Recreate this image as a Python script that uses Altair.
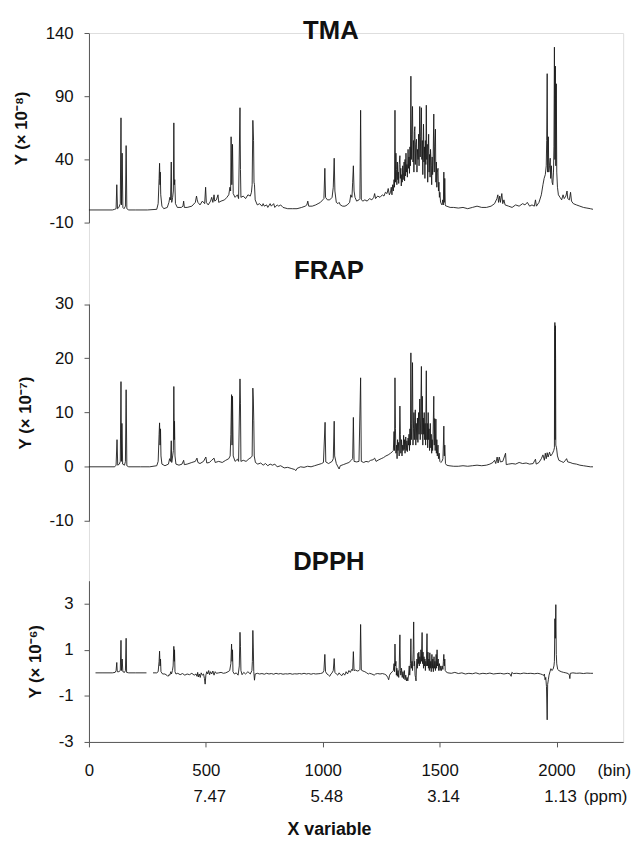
import altair as alt
import pandas as pd

FONT = "Liberation Sans"

panel_names = ["TMA", "FRAP", "DPPH"]
y_titles = ["Y (× 10⁻⁸)", "Y (× 10⁻⁷)", "Y (× 10⁻⁶)"]
tma_domain = [-10, 140]
tma_ticks = [-10, 40, 90, 140]
frap_domain = [-10, 30]
frap_ticks = [-10, 0, 10, 20, 30]
dpph_domain = [-3, 4]
dpph_ticks = [-3, -1, 1, 3]
bin_domain = [0, 2285]
bin_ticks = [0, 500, 1000, 1500, 2000]
ppm_bins = [500, 1000, 1500, 2000]
ppm_labels = ["7.47", "5.48", "3.14", "1.13"]

# ---- TMA spectrum (bin, value x 1e-8) ----
tma_left = [
    (0, 0), (100, 0), (110, 0.5), (116, 1), (119, 20), (122, 1), (128, 2), (134, 5), (137, 73), (139, 4),
    (142, 45), (145, 2), (150, 1), (156, 3), (159, 51), (162, 1), (170, 0), (200, 0), (250, 0), (290, 0.5),
    (296, 5), (300, 25), (302, 37), (304, 20), (305, 30), (307, 12), (312, 3), (320, 1), (335, 2), (342, 6),
    (346, 10), (349, 8), (352, 38), (354, 6), (358, 10), (361, 15), (363, 69), (365, 20), (367, 24), (370, 5),
    (378, 2), (395, 2), (402, 3), (405, 7), (408, 2), (420, 2), (440, 3), (455, 6), (460, 11), (463, 8),
    (466, 6), (475, 4), (485, 7), (495, 5), (499, 18), (502, 6), (510, 4), (520, 7), (525, 10), (530, 6),
    (535, 12), (538, 7), (545, 8), (552, 12), (555, 6), (565, 7), (580, 8), (590, 10), (598, 12), (603, 18),
    (606, 15), (608, 58), (611, 20), (614, 52), (617, 13), (625, 10), (635, 12), (640, 9), (646, 81), (648, 32),
    (650, 10), (660, 11), (670, 9), (680, 12), (690, 11), (695, 14), (698, 20), (701, 71), (704, 55), (706, 22),
    (708, 20), (711, 8), (720, 4), (730, 5), (740, 3), (745, 5), (750, 3), (760, 4), (765, 2), (775, 5),
    (780, 3), (790, 5), (795, 2), (805, 4), (812, 3), (820, 4), (830, 2), (850, 1), (870, 1), (890, 1),
    (910, 2), (925, 3), (932, 4), (936, 7), (940, 3), (955, 3), (970, 4), (980, 5), (990, 6), (1000, 8),
    (1005, 9), (1009, 33), (1012, 10), (1020, 8), (1030, 8), (1040, 10), (1045, 18), (1049, 41), (1052, 15), (1058, 6),
    (1065, 5), (1070, 6), (1075, 4), (1085, 3), (1095, 3), (1105, 4), (1115, 6), (1120, 12), (1125, 10), (1128, 22),
    (1131, 35), (1134, 15), (1138, 10), (1145, 7), (1155, 8), (1159, 9), (1162, 79), (1165, 8), (1172, 7), (1180, 8),
    (1190, 7), (1200, 9), (1210, 8), (1218, 10), (1222, 13), (1226, 9), (1235, 11), (1245, 10), (1255, 12), (1262, 11),
    (1268, 14), (1275, 13), (1280, 17), (1285, 12),
]
tma_cluster = [
    (1290, 14), (1293, 18), (1296, 12), (1299, 20), (1302, 15), (1305, 24), (1307, 18), (1309, 79), (1311, 22), (1313, 45),
    (1315, 32), (1317, 20), (1319, 38), (1321, 24), (1323, 30), (1325, 21), (1327, 36), (1330, 43), (1332, 25), (1334, 33),
    (1336, 19), (1338, 28), (1340, 22), (1342, 35), (1344, 24), (1346, 30), (1348, 38), (1350, 23), (1352, 40), (1354, 27),
    (1356, 45), (1358, 30), (1360, 36), (1362, 26), (1365, 48), (1367, 33), (1369, 42), (1371, 29), (1373, 50), (1375, 35),
    (1377, 106), (1379, 40), (1381, 60), (1384, 82), (1386, 38), (1388, 55), (1390, 30), (1392, 62), (1394, 66), (1396, 36),
    (1398, 52), (1401, 56), (1403, 30), (1405, 48), (1408, 40), (1410, 60), (1412, 35), (1415, 82), (1417, 42), (1419, 58),
    (1422, 81), (1424, 40), (1426, 55), (1428, 28), (1431, 68), (1433, 38), (1435, 50), (1437, 25), (1439, 55), (1441, 36),
    (1443, 83), (1445, 40), (1447, 52), (1449, 22), (1451, 46), (1453, 60), (1455, 30), (1457, 44), (1459, 26), (1461, 48),
    (1464, 35), (1466, 20), (1468, 42), (1470, 28), (1472, 38), (1475, 76), (1477, 30), (1479, 50), (1482, 64), (1484, 22),
    (1486, 38), (1488, 18), (1490, 30), (1493, 33), (1495, 15), (1497, 22), (1499, 10), (1501, 14), (1504, 6), (1507, 5),
    (1510, 4), (1513, 8), (1516, 4), (1518, 30), (1520, 6), (1522, 25), (1524, 4), (1527, 3),
]
tma_right = [
    (1530, 3), (1545, 2), (1560, 2), (1580, 1.5), (1600, 2), (1620, 1), (1640, 2), (1660, 3), (1680, 2), (1700, 2),
    (1720, 3), (1735, 5), (1745, 9), (1749, 12), (1752, 6), (1757, 11), (1760, 6), (1766, 13), (1770, 5), (1775, 8),
    (1780, 4), (1795, 3), (1810, 2), (1825, 4), (1840, 3), (1855, 5), (1865, 4), (1875, 6), (1885, 3), (1895, 4),
    (1905, 3), (1910, 8), (1914, 3), (1925, 6), (1935, 12), (1942, 20), (1947, 25), (1952, 28), (1956, 35), (1958, 55),
    (1960, 108), (1962, 30), (1965, 58), (1967, 30), (1970, 35), (1973, 41), (1975, 25), (1978, 35), (1981, 22), (1984, 20),
    (1987, 30), (1989, 50), (1991, 129), (1993, 40), (1995, 114), (1997, 35), (1999, 100), (2001, 30), (2004, 18), (2008, 12),
    (2015, 10), (2022, 8), (2028, 12), (2033, 9), (2040, 11), (2045, 15), (2048, 9), (2055, 8), (2060, 14), (2064, 7),
    (2072, 5), (2085, 4), (2100, 3), (2115, 2), (2130, 1.5), (2145, 1), (2156, 0.5),
]

# ---- FRAP spectrum (bin, value x 1e-7) ----
frap_left = [
    (0, 0), (110, 0), (116, 0.3), (120, 5), (123, 0.3), (130, 0.5), (134, 1), (137, 15.7), (139, 1), (141, 8),
    (144, 0.5), (152, 0.3), (156, 1), (159, 14.2), (162, 0.2), (170, 0), (220, 0), (260, 0), (290, 0.2), (296, 1),
    (300, 6), (302, 8.1), (304, 4), (306, 7), (308, 2), (312, 0.5), (325, 0.2), (340, 0.5), (345, 1.5), (349, 1),
    (352, 4.8), (354, 0.8), (358, 2), (361, 3), (363, 14.8), (365, 5), (366, 8.4), (368, 2), (372, 0.5), (385, 0.3),
    (398, 0.5), (405, 1.2), (408, 0.4), (420, 0.5), (440, 0.8), (455, 1), (462, 1.6), (466, 0.8), (475, 0.6), (490, 1),
    (500, 1.8), (504, 0.7), (515, 0.8), (525, 1.2), (535, 1.6), (540, 0.8), (555, 1), (570, 0.8), (585, 1.2), (598, 1.5),
    (604, 2), (607, 6), (610, 13.3), (612, 4), (614, 13), (617, 2), (625, 1), (635, 1.4), (640, 1), (646, 16.2),
    (648, 11.6), (650, 1), (660, 1.2), (672, 1), (685, 1.5), (693, 1.7), (698, 2), (701, 14.5), (703, 12.5), (705, 8.6),
    (707, 2), (712, 0.8), (722, 0.5), (735, 0.7), (745, 0.3), (755, 0.6), (765, 0.2), (775, 0.5), (785, 0.3), (795, 0.5),
    (805, 0), (820, 0.2), (835, -0.2), (850, -0.1), (865, -0.3), (880, -0.5), (885, -0.7), (890, -0.3), (905, 0), (920, -0.1),
    (935, 0.1), (950, 0), (965, 0.2), (980, 0.4), (995, 0.6), (1003, 0.8), (1010, 8.2), (1013, 0.9), (1025, 0.6), (1040, 1),
    (1045, 1.5), (1049, 8.4), (1051, 2), (1058, 0.6), (1065, 0), (1070, -0.4), (1075, 0.2), (1088, 0.4), (1100, 0.6), (1112, 0.8),
    (1122, 1.2), (1128, 1.5), (1131, 9.1), (1134, 1), (1145, 0.9), (1155, 1), (1162, 16.4), (1165, 1), (1175, 0.8), (1185, 1),
    (1195, 0.9), (1205, 1.2), (1215, 1.3), (1222, 1.6), (1228, 1), (1240, 1.3), (1250, 1.5), (1260, 1.7), (1270, 2), (1280, 2.2),
    (1290, 2.5), (1298, 2.8),
]
frap_cluster = [
    (1302, 3), (1305, 6.5), (1307, 3), (1309, 16.4), (1311, 7.1), (1313, 2.5), (1316, 4), (1318, 1.5), (1320, 5), (1322, 3),
    (1325, 4.5), (1327, 2), (1330, 11.2), (1332, 5.9), (1334, 2.5), (1337, 5), (1339, 2), (1342, 4), (1344, 3), (1346, 5.8),
    (1348, 3.2), (1350, 5), (1352, 2.5), (1355, 5.5), (1357, 3), (1360, 4.8), (1362, 2.8), (1365, 5.3), (1367, 4), (1369, 6),
    (1371, 3), (1373, 7), (1375, 4), (1377, 21), (1379, 5), (1381, 8), (1384, 19.2), (1386, 4), (1388, 7), (1390, 10),
    (1392, 5), (1394, 8.5), (1396, 10.5), (1398, 4), (1400, 8), (1403, 5), (1405, 9), (1407, 4.5), (1410, 10), (1412, 6),
    (1415, 12.5), (1417, 5), (1419, 9), (1422, 18.5), (1424, 6), (1426, 13), (1428, 4), (1430, 9), (1432, 6), (1434, 10),
    (1436, 5), (1438, 8), (1440, 4), (1443, 17.7), (1445, 5), (1447, 8), (1449, 3.5), (1451, 10), (1453, 5), (1455, 7),
    (1457, 3), (1460, 8), (1462, 3.5), (1464, 6), (1466, 2.5), (1468, 5), (1470, 3), (1472, 6), (1475, 13), (1477, 4),
    (1479, 8.9), (1481, 3), (1484, 8.8), (1486, 2.5), (1488, 5), (1490, 2), (1493, 4), (1495, 1.5), (1498, 2.5), (1501, 1),
    (1505, 0.8), (1510, 1), (1514, 1.5), (1516, 4), (1518, 7.5), (1520, 2), (1522, 4), (1525, 0.6), (1530, 0.3),
]
frap_right = [
    (1540, 0.2), (1560, 0.1), (1580, 0.1), (1600, 0.2), (1620, 0.1), (1640, 0.2), (1660, 0.3), (1680, 0.2), (1700, 0.3), (1715, 0.5),
    (1728, 0.8), (1735, 1.2), (1740, 0.6), (1746, 1.8), (1750, 0.7), (1755, 1.8), (1760, 0.9), (1770, 1), (1782, 2.5), (1785, 0.4),
    (1795, 0.5), (1810, 0.6), (1825, 0.5), (1840, 0.8), (1855, 0.6), (1870, 0.7), (1885, 0.5), (1900, 0.6), (1907, 1.2), (1910, 1.4),
    (1913, 0.5), (1925, 0.8), (1935, 1.5), (1942, 2.2), (1948, 1.2), (1952, 2.5), (1956, 1.5), (1960, 2.6), (1964, 1.8), (1970, 2.7),
    (1975, 2), (1982, 2.4), (1988, 3), (1991, 3.5), (1992, 25), (1993, 26.6), (1994, 5), (1995, 26), (1996, 20), (1997, 4),
    (2000, 3.5), (2004, 2), (2010, 1.2), (2020, 1), (2030, 0.8), (2038, 1.2), (2043, 1.5), (2048, 0.9), (2058, 0.8), (2070, 0.6),
    (2085, 0.5), (2100, 0.3), (2115, 0.2), (2130, 0.1), (2145, 0), (2156, 0),
]

# ---- DPPH spectrum (bin, value x 1e-6), two segments ----
dpph_seg_a = [
    (28, 0), (60, 0), (100, 0), (112, 0.02), (116, 0.1), (119, 0.45), (121, 0.05), (128, 0.05), (134, 0.1), (137, 1.41),
    (139, 0.1), (142, 0.6), (145, 0.05), (152, 0.02), (156, 0.1), (159, 1.5), (161, 0.02), (170, 0), (200, 0), (246, 0),
]
dpph_seg_b = [
    (274, 0), (290, 0), (296, 0.05), (300, 0.5), (302, 0.94), (304, 0.3), (306, 0.6), (308, 0.05), (315, -0.05), (325, -0.05),
    (335, -0.12), (338, -0.15), (342, -0.08), (346, -0.1), (350, 0.05), (353, -0.05), (357, 0.1), (360, 0.3), (363, 1.15), (365, 0.5),
    (366, 1.0), (368, 0.05), (372, -0.05), (380, -0.02), (390, -0.08), (400, -0.03), (410, -0.1), (420, -0.05), (430, -0.08), (440, -0.02),
    (450, -0.1), (458, -0.05), (462, -0.15), (465, 0.02), (468, -0.18), (472, -0.05), (476, -0.2), (480, 0), (485, -0.1), (490, -0.05),
    (494, -0.25), (497, -0.49), (500, -0.1), (504, 0.05), (508, -0.05), (512, 0.1), (516, -0.08), (520, 0.05), (525, -0.05), (530, 0.08),
    (535, -0.1), (540, 0.05), (545, -0.02), (555, 0), (565, 0.02), (575, -0.02), (585, 0), (595, 0.05), (602, 0.1), (607, 0.4),
    (610, 1.25), (612, 0.5), (614, 1.0), (616, 0.05), (622, -0.05), (630, 0), (638, -0.1), (643, 0.3), (646, 1.76), (648, 1.15),
    (650, 0.1), (655, -0.08), (662, 0.02), (670, -0.05), (680, 0.05), (690, -0.05), (697, 0.1), (699, 0.5), (701, 1.84), (703, 1.08),
    (705, 0.05), (708, -0.32), (711, -0.05), (720, -0.02), (730, -0.05), (740, -0.03), (750, -0.06), (760, -0.02), (770, -0.05), (780, -0.03),
    (790, -0.06), (800, -0.02), (810, -0.05), (820, -0.03), (830, -0.06), (840, -0.04), (850, -0.05), (860, -0.03), (870, -0.06), (880, -0.04),
    (890, -0.05), (900, -0.03), (910, -0.05), (920, -0.02), (930, -0.05), (940, -0.03), (950, -0.06), (960, -0.03), (970, -0.05), (980, -0.04),
    (990, -0.03), (1000, 0), (1005, 0.1), (1009, 0.8), (1012, 0.05), (1018, -0.05), (1025, -0.1), (1030, -0.15), (1035, -0.05), (1040, 0),
    (1045, 0.1), (1049, 0.62), (1052, 0.02), (1058, -0.05), (1064, -0.1), (1070, 0), (1076, -0.08), (1082, -0.12), (1088, -0.02), (1094, -0.1),
    (1100, 0.05), (1106, -0.05), (1112, 0.1), (1118, 0.02), (1124, 0.15), (1128, 0.1), (1131, 0.92), (1134, 0.1), (1140, 0.12), (1148, 0.08),
    (1155, 0.1), (1159, 0.15), (1162, 2.1), (1165, 0.12), (1172, 0.08), (1180, 0.05), (1188, 0), (1195, -0.05), (1200, -0.02), (1210, -0.05),
    (1220, -0.1), (1226, -0.05), (1235, -0.03), (1245, -0.05), (1255, -0.03), (1265, -0.06), (1272, -0.1), (1278, -0.2), (1282, -0.3), (1286, -0.1),
    (1292, 0), (1298, 0.05),
]
dpph_cluster = [
    (1302, 0.1), (1305, 0.4), (1307, 0.05), (1309, 1.25), (1311, 0.3), (1313, 0.5), (1315, -0.1), (1317, 0.2), (1319, -0.15), (1322, 0.1),
    (1325, -0.2), (1327, 0.2), (1330, 1.65), (1332, 0.1), (1334, -0.1), (1337, 0.2), (1340, -0.2), (1343, 0.05), (1346, -0.25), (1349, 0.1),
    (1352, -0.3), (1355, -0.1), (1358, -0.35), (1361, -0.2), (1364, -0.35), (1367, -0.1), (1370, 0.3), (1372, -0.1), (1375, 0.4), (1377, 1.48),
    (1379, 0.2), (1382, 0.5), (1384, 0.1), (1387, 1.0), (1389, 2.21), (1391, 0.3), (1393, 0.5), (1395, -0.1), (1397, -0.2), (1399, -0.35),
    (1401, 0.3), (1403, 0.6), (1405, 0.2), (1407, 0.85), (1409, 0.4), (1411, 0.9), (1413, 0.3), (1415, 0.7), (1418, 0.4), (1420, 1.0),
    (1422, 0.5), (1425, 1.75), (1427, 0.4), (1429, 0.9), (1431, 0.2), (1433, 0.7), (1435, 0.3), (1437, 0.6), (1439, 0.1), (1441, 0.5),
    (1443, 0.3), (1446, 1.7), (1448, 0.3), (1450, 0.9), (1452, 0.2), (1454, 0.6), (1456, 0.1), (1458, 0.87), (1460, 0.2), (1462, 0.5),
    (1464, 0.05), (1467, 0.8), (1469, 0.2), (1471, 0.6), (1473, 0.05), (1476, 0.7), (1478, 0.2), (1480, 0.5), (1482, 0.1), (1485, 0.8),
    (1487, 0.2), (1489, 1.0), (1491, 0.3), (1494, 0.6), (1496, 0.1), (1499, 0.4), (1502, 0.1), (1505, 0.3), (1508, 0.1), (1511, 0.3),
    (1514, 0.15), (1516, 0.5), (1518, 0.8), (1520, 0.3), (1522, 0.6), (1524, 0.1), (1527, 0.05),
]
dpph_right = [
    (1535, 0), (1550, -0.02), (1565, 0.02), (1580, -0.03), (1595, 0), (1610, -0.05), (1625, -0.02), (1640, -0.04), (1655, 0), (1670, -0.05),
    (1685, -0.02), (1700, -0.04), (1715, -0.01), (1730, -0.05), (1745, -0.03), (1760, -0.02), (1775, -0.05), (1790, -0.02), (1800, -0.04), (1806, -0.15),
    (1809, 0.02), (1815, -0.03), (1830, -0.02), (1845, -0.04), (1860, -0.01), (1875, -0.03), (1890, -0.02), (1905, -0.04), (1920, -0.02), (1932, -0.05),
    (1940, -0.08), (1944, -0.12), (1948, -0.05), (1951, -0.3), (1954, -0.2), (1957, -0.6), (1960, -2.04), (1962, -0.5), (1965, -0.3), (1968, -0.1),
    (1972, 0.05), (1976, 0.18), (1980, 0.1), (1985, 0.15), (1989, 0.3), (1991, 0.5), (1993, 2.35), (1995, 1.5), (1997, 2.96), (1999, 0.8),
    (2001, 0.39), (2005, 0.15), (2010, 0.1), (2020, 0.05), (2030, 0.02), (2040, 0), (2050, -0.03), (2055, -0.1), (2057, -0.25), (2059, -0.02),
    (2070, 0), (2085, -0.02), (2100, -0.01), (2115, -0.03), (2130, -0.01), (2145, -0.02), (2156, -0.02),
]

# ---- layout (pixels inside plot area) ----
PLOT_W, PLOT_H = 541, 718
TMA_RANGE = [192, 0.3]
FRAP_RANGE = [494.3, 274.5]
DPPH_RANGE = [718, 554.7]
LINE_COLOR = "#1a1a1a"
AXIS_COLOR = "#555555"
PLAIN_LABEL = "'' + datum.value"


def to_df(points, seg):
    return pd.DataFrame({"bin": [p[0] for p in points], "val": [p[1] for p in points], "seg": seg})


tma_df = to_df(tma_left + tma_cluster + tma_right, "a")
frap_df = to_df(frap_left + frap_cluster + frap_right, "a")
dpph_df = pd.concat([to_df(dpph_seg_a, "a"), to_df(dpph_seg_b + dpph_cluster + dpph_right, "b")])

x_enc = alt.X(
    "bin:Q",
    scale=alt.Scale(domain=bin_domain, nice=False, zero=False),
    axis=alt.Axis(values=bin_ticks, title=None, grid=False, tickSize=5, labelPadding=29,
                  labelBaseline="alphabetic", labelFont=FONT, labelFontSize=17, labelColor="#111",
                  labelFlush=False, labelExpr=PLAIN_LABEL, domainColor=AXIS_COLOR, tickColor=AXIS_COLOR),
)


def y_enc(domain, ticks, rng, title, title_x):
    return alt.Y(
        "val:Q",
        scale=alt.Scale(domain=domain, range=rng, nice=False, zero=False),
        axis=alt.Axis(values=ticks, orient="left", title=title, grid=False, tickSize=5, labelPadding=11,
                      labelFont=FONT, labelFontSize=17, labelColor="#111", labelFlush=False,
                      labelExpr=PLAIN_LABEL,
                      domainColor=AXIS_COLOR, tickColor=AXIS_COLOR, titleFont=FONT, titleFontSize=17,
                      titleFontWeight="bold", titleColor="#111", titleX=title_x,
                      titleY=(rng[0] + rng[1]) / 2),
    )


def spectrum(df, domain, ticks, rng, title, title_x):
    return alt.Chart(df).mark_line(color=LINE_COLOR, strokeWidth=0.9).encode(
        x=x_enc, y=y_enc(domain, ticks, rng, title, title_x), detail="seg:N"
    )


tma_line = spectrum(tma_df, tma_domain, tma_ticks, TMA_RANGE, y_titles[0], -59)
frap_line = spectrum(frap_df, frap_domain, frap_ticks, FRAP_RANGE, y_titles[1], -55)
dpph_line = spectrum(dpph_df, dpph_domain, dpph_ticks, DPPH_RANGE, y_titles[2], -45)

one = alt.Data(values=[{"k": 1}])


def label(text, x, y, size=17, weight="normal", align="center"):
    return alt.Chart(one).mark_text(
        font=FONT, fontSize=size, fontWeight=weight, align=align, baseline="alphabetic", color="#111"
    ).encode(x=alt.value(x), y=alt.value(y), text=alt.value(text))


title_layers = [
    label(panel_names[0], 245, 6.5, 26, "bold"),
    label(panel_names[1], 243, 249.5, 26, "bold"),
    label(panel_names[2], 243, 543.7, 26, "bold"),
]

ppm_df = pd.DataFrame({"bin": ppm_bins, "lab": ppm_labels})
ppm_text = alt.Chart(ppm_df).mark_text(
    font=FONT, fontSize=17, baseline="alphabetic", align="center", dx=4, color="#111"
).encode(x=x_enc, y=alt.value(778.7), text="lab:N")

extra = [
    label("(bin)", 515, 752, 17, "normal", "left"),
    label("(ppm)", 501, 778.7, 17, "normal", "left"),
    label("X variable", 243.6, 812, 18, "bold"),
]

chart = alt.layer(
    tma_line, frap_line, dpph_line, *title_layers, ppm_text, *extra
).resolve_scale(y="independent").properties(
    width=PLOT_W, height=PLOT_H,
    autosize=alt.AutoSizeParams(type="none"),
    padding={"left": 82, "top": 20, "right": 12, "bottom": 95},
).configure_view(stroke=None).configure(background="white")

chart.save("out.html", embed_options={"renderer": "svg", "actions": False})
